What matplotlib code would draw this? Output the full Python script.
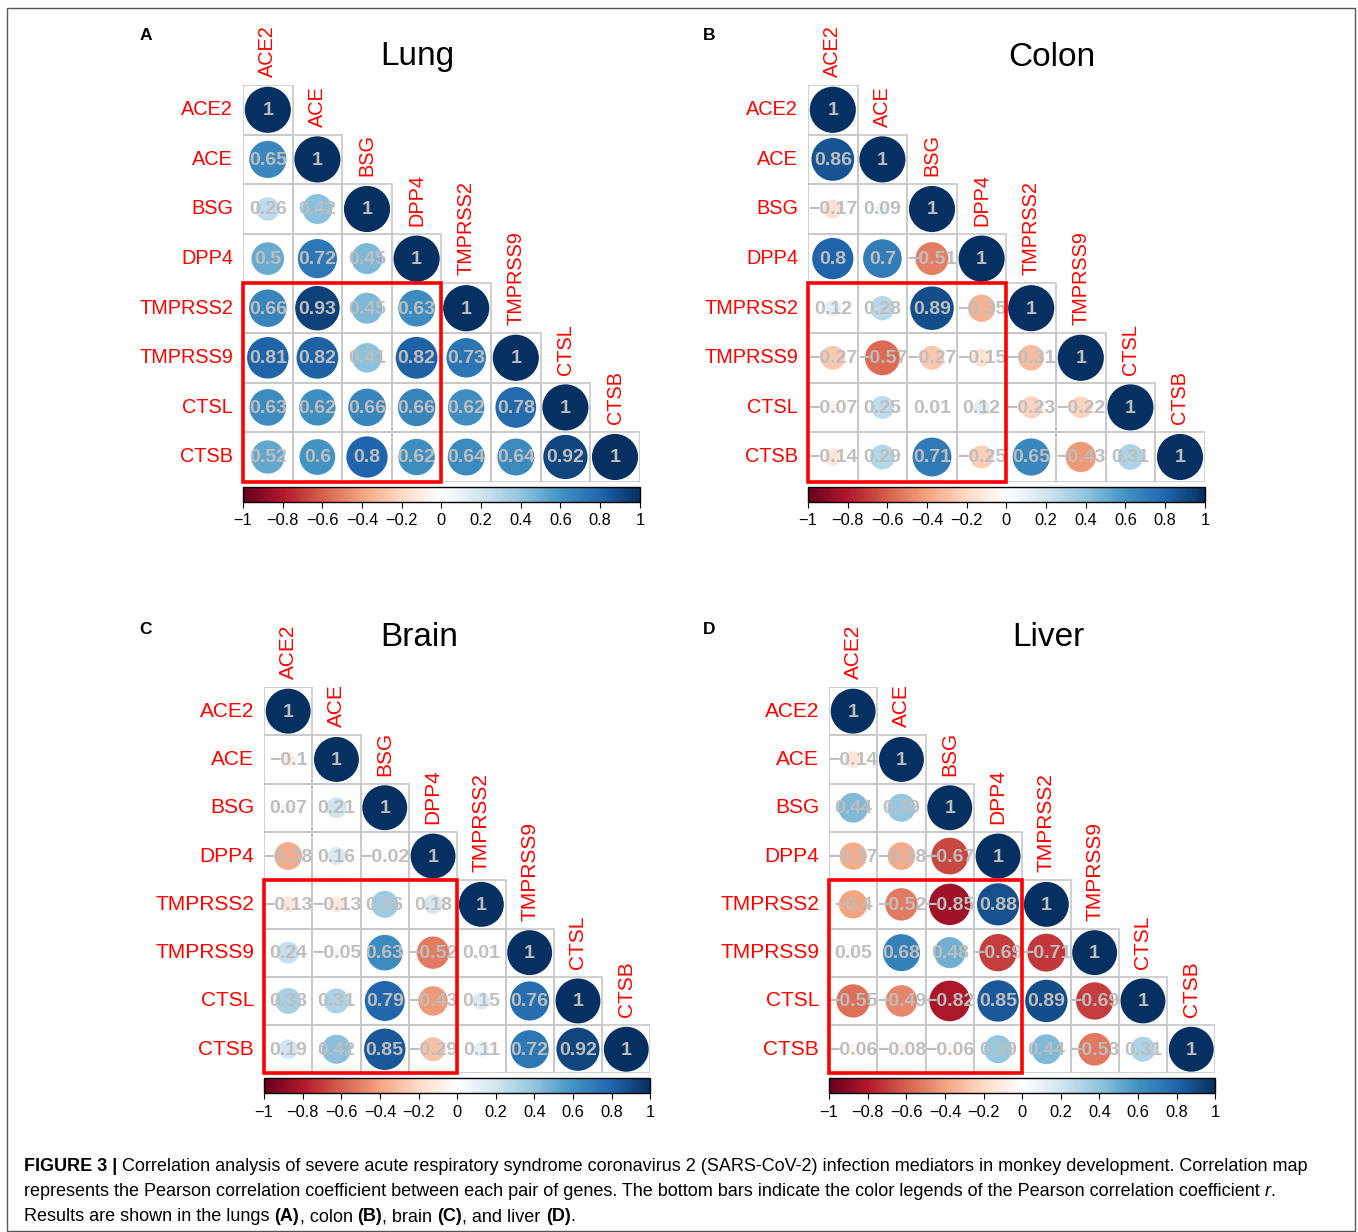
"""Four corrplot-style lower-triangle correlation maps (lung, colon, brain, liver)."""

import numpy as np
import matplotlib
matplotlib.use("Agg")
import matplotlib.pyplot as plt
from matplotlib.cm import ScalarMappable
from matplotlib.colors import LinearSegmentedColormap, Normalize
from matplotlib.patches import Circle, Rectangle

plt.rcParams["font.family"] = ["Liberation Sans", "DejaVu Sans"]

W, H = 1358, 1232

genes = ["ACE2", "ACE", "BSG", "DPP4", "TMPRSS2", "TMPRSS9", "CTSL", "CTSB"]

# lower triangle, row by row (values left of the diagonal; diagonal is 1)
lung = [
    [],
    [0.65],
    [0.26, 0.42],
    [0.5, 0.72, 0.45],
    [0.66, 0.93, 0.45, 0.63],
    [0.81, 0.82, 0.41, 0.82, 0.73],
    [0.63, 0.62, 0.66, 0.66, 0.62, 0.78],
    [0.52, 0.6, 0.8, 0.62, 0.64, 0.64, 0.92],
]
colon = [
    [],
    [0.86],
    [-0.17, 0.09],
    [0.8, 0.7, -0.51],
    [0.12, 0.28, 0.89, -0.35],
    [-0.27, -0.57, -0.27, -0.15, -0.31],
    [-0.07, 0.25, 0.01, 0.12, -0.23, -0.22],
    [-0.14, 0.29, 0.71, -0.25, 0.65, -0.43, 0.31],
]
brain = [
    [],
    [-0.1],
    [0.07, 0.21],
    [-0.38, 0.16, -0.02],
    [-0.13, -0.13, 0.36, 0.18],
    [0.24, -0.05, 0.63, -0.52, 0.01],
    [0.33, 0.31, 0.79, -0.43, 0.15, 0.76],
    [0.19, 0.42, 0.85, -0.29, 0.11, 0.72, 0.92],
]
liver = [
    [],
    [-0.14],
    [0.44, 0.39],
    [-0.37, -0.38, -0.67],
    [-0.4, -0.52, -0.85, 0.88],
    [0.05, 0.68, 0.48, -0.69, -0.71],
    [-0.55, -0.49, -0.82, 0.85, 0.89, -0.69],
    [-0.06, -0.08, -0.06, 0.39, 0.44, -0.53, 0.31],
]

cbar_ticks = [-1, -0.8, -0.6, -0.4, -0.2, 0, 0.2, 0.4, 0.6, 0.8, 1]

caption_lines = [
    [("FIGURE 3 | ", "bold", "normal"),
     ("Correlation analysis of severe acute respiratory syndrome coronavirus 2 "
      "(SARS-CoV-2) infection mediators in monkey development. Correlation map",
      "normal", "normal")],
    [("represents the Pearson correlation coefficient between each pair of genes. "
      "The bottom bars indicate the color legends of the Pearson correlation coefficient ",
      "normal", "normal"),
     ("r", "normal", "italic"), (".", "normal", "normal")],
    [("Results are shown in the lungs ", "normal", "normal"), ("(A)", "bold", "normal"),
     (", colon ", "normal", "normal"), ("(B)", "bold", "normal"),
     (", brain ", "normal", "normal"), ("(C)", "bold", "normal"),
     (", and liver ", "normal", "normal"), ("(D)", "bold", "normal"),
     (".", "normal", "normal")],
]

# corrplot COL2("RdBu") palette
cmap = LinearSegmentedColormap.from_list("corr_rdbu", [
    "#67001F", "#B2182B", "#D6604D", "#F4A582", "#FDDBC7", "#FFFFFF",
    "#D1E5F0", "#92C5DE", "#4393C3", "#2166AC", "#053061"])
norm = Normalize(-1, 1)

PANELS = [
    dict(data=lung, title="Lung", letter="A", x0=243, y0=85, cell=49.6,
         title_xy=(417, 57), letter_xy=(146, 35), lab_fs=14.3),
    dict(data=colon, title="Colon", letter="B", x0=808, y0=85, cell=49.6,
         title_xy=(1052, 57), letter_xy=(709, 35), lab_fs=14.3),
    dict(data=brain, title="Brain", letter="C", x0=264, y0=687, cell=48.3,
         title_xy=(419, 637), letter_xy=(145, 630), lab_fs=15),
    dict(data=liver, title="Liver", letter="D", x0=829, y0=687, cell=48.3,
         title_xy=(1048, 637), letter_xy=(709, 630), lab_fs=15),
]

CAPTION_FS = 13.0


def px_axes(fig, x, y, w, h):
    return fig.add_axes([x / W, 1 - (y + h) / H, w / W, h / H])


def fig_text(fig, x, y, s, **kw):
    return fig.text(x / W, 1 - y / H, s, **kw)


def fmt(v):
    s = f"{round(v, 2):g}"
    return s.replace("-", "\u2212")


def draw_panel(fig, p):
    n = len(genes)
    cell = p["cell"]
    size = n * cell
    ax = px_axes(fig, p["x0"], p["y0"], size, size)
    ax.set_xlim(0, n)
    ax.set_ylim(n, 0)
    ax.axis("off")

    for i in range(n):
        row = list(p["data"][i]) + [1.0]
        for j, r in enumerate(row):
            ax.add_patch(Rectangle((j, i), 1, 1, fill=False, ec="#c8c8c8",
                                   lw=1.2, zorder=1))
            ax.add_patch(Circle((j + 0.5, i + 0.5), 0.465 * np.sqrt(abs(r)),
                                fc=cmap(norm(r)), ec="none", zorder=2))
            ax.text(j + 0.5, i + 0.52, fmt(r), ha="center", va="center",
                    color="#bebebe", fontsize=14, fontweight="bold", zorder=3)
        ax.text(-10 / cell, i + 0.5, genes[i], ha="right", va="center",
                color="#ff0000", fontsize=p["lab_fs"], clip_on=False)
        ax.text(i + 0.5, i - 8 / cell, genes[i], ha="center", va="bottom",
                rotation=90, color="#ff0000", fontsize=p["lab_fs"], clip_on=False)

    # highlighted block: TMPRSS2..CTSB rows x ACE2..DPP4 columns
    ax.add_patch(Rectangle((0, 4), 4, 4, fill=False, ec="#ff0000", lw=2.6,
                           zorder=5, clip_on=False))

    cax = px_axes(fig, p["x0"], p["y0"] + size + 5, size, 15)
    cb = fig.colorbar(ScalarMappable(norm=norm, cmap=cmap), cax=cax,
                      orientation="horizontal", ticks=cbar_ticks)
    cb.ax.set_xticklabels([fmt(t) for t in cbar_ticks])
    cb.ax.tick_params(length=4, width=0.8, pad=4, labelsize=11.8, colors="black")
    cb.outline.set_linewidth(1.0)
    cb.outline.set_edgecolor("black")

    fig_text(fig, *p["title_xy"], p["title"], ha="center", va="center", fontsize=24)
    fig_text(fig, *p["letter_xy"], p["letter"], ha="center", va="center",
             fontsize=12.5, fontweight="bold")


def draw_caption(fig):
    family = ["Liberation Sans Narrow", "Liberation Sans"]
    renderer = fig.canvas.get_renderer()

    def width(s, weight, style):
        t = fig.text(0, 0, s + "|", fontsize=CAPTION_FS, fontweight=weight,
                     fontstyle=style, family=family)
        w = t.get_window_extent(renderer=renderer).width
        t.remove()
        return w

    bar_w = width("", "normal", "normal")
    for k, line in enumerate(caption_lines):
        x = 24
        y = 1171 + 25 * k
        for s, weight, style in line:
            fig_text(fig, x, y, s, ha="left", va="baseline", fontsize=CAPTION_FS,
                     fontweight=weight, fontstyle=style, family=family)
            x += width(s, weight, style) - bar_w


def main():
    fig = plt.figure(figsize=(W / 100, H / 100), dpi=100)
    for p in PANELS:
        draw_panel(fig, p)
    draw_caption(fig)
    fig.add_artist(Rectangle((7 / W, 1 - 1231 / H), 1348 / W, 1223 / H,
                             transform=fig.transFigure, fill=False,
                             ec="#555555", lw=1.0))
    fig.savefig("out.png", dpi=100)


if __name__ == "__main__":
    main()
